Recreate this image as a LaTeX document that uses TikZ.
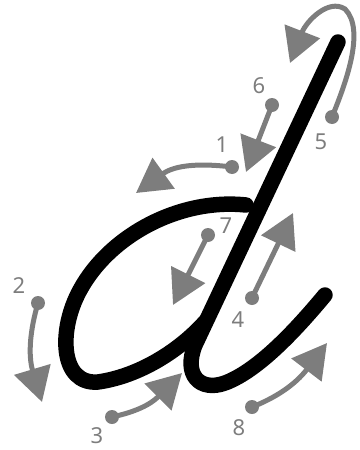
\documentclass[tikz,border=0pt]{standalone}
\usepackage{fontspec}
\setmainfont{Noto Sans}
\usepackage{xcolor}
\usepackage{tikz}
\usetikzlibrary{
    arrows.meta,
    calc,
}
\definecolor{guidegray}{RGB}{125,125,125}
\tikzset{
    % Letter styles
    letter/.style={draw=black, line width=15.5pt, line cap=round, line join=round},
    % Guide arrow styles
    guide/.style={draw=guidegray, line width=5pt, -{Triangle[length=34pt, width=37pt]}},
    start dot/.style={circle, fill=guidegray, inner sep=0pt, minimum size=14pt},
    % Number styles
    num/.style={text=guidegray, font=\fontsize{22}{22}\selectfont, inner sep=0pt},
}

\begin{document}
\begin{tikzpicture}[x=1pt, y=-1pt]
    \useasboundingbox (0,0) rectangle (359,450);

    % Letter d
    \draw[letter] (246,205) .. controls (180,198) and (110,235) .. (80,290)
        .. controls (58,330) and (60,385) .. (98,382)
        .. controls (140,376) and (180,350) .. (205,322);
    \draw[letter] (338,42) -- (195,345)
        .. controls (183,375) and (200,392) .. (225,383)
        .. controls (260,370) and (300,325) .. (325,295);

    % Start dots
    \node[start dot] (s1) at (232,167) {};
    \node[start dot] (s2) at (38,303) {};
    \node[start dot] (s3) at (112,417) {};
    \node[start dot] (s4) at (252,298) {};
    \node[start dot] (s5) at (332,117) {};
    \node[start dot] (s6) at (272,105) {};
    \node[start dot] (s7) at (208,235) {};
    \node[start dot] (s8) at (252,407) {};

    % Arrow tips
    \coordinate (e1) at (136,193);
    \coordinate (e2) at (42,402);
    \coordinate (e3) at (182,373);
    \coordinate (e4) at (293,213);
    \coordinate (e5) at (290,63);
    \coordinate (e6) at (246,172);
    \coordinate (e7) at (173,305);
    \coordinate (e8) at (327,343);

    % Guide arrows
    \draw[guide] (s1.center) .. controls (200,163) and (175,165) .. (e1);
    \draw[guide] (s2.center) .. controls (30,330) and (28,355) .. (e2);
    \draw[guide] (s3.center) .. controls (135,412) and (150,405) .. (e3);
    \draw[guide] (s4.center) -- (e4);
    \draw[guide] (s5.center) .. controls (345,85) and (366,30) .. (345,9)
        .. controls (328,-2) and (306,22) .. (e5);
    \draw[guide] (s6.center) -- (e6);
    \draw[guide] (s7.center) -- (e7);
    \draw[guide] (s8.center) .. controls (275,398) and (295,385) .. (e8);

    % Numbers
    \node[num] (n1) at (222,145) {1};
    \node[num] (n2) at (19,286) {2};
    \node[num] (n3) at (97,436) {3};
    \node[num] (n4) at (238,320) {4};
    \node[num] (n5) at (321,142) {5};
    \node[num] (n6) at (259,86) {6};
    \node[num] (n7) at (226,226) {7};
    \node[num] (n8) at (239,428) {8};
\end{tikzpicture}
\end{document}
